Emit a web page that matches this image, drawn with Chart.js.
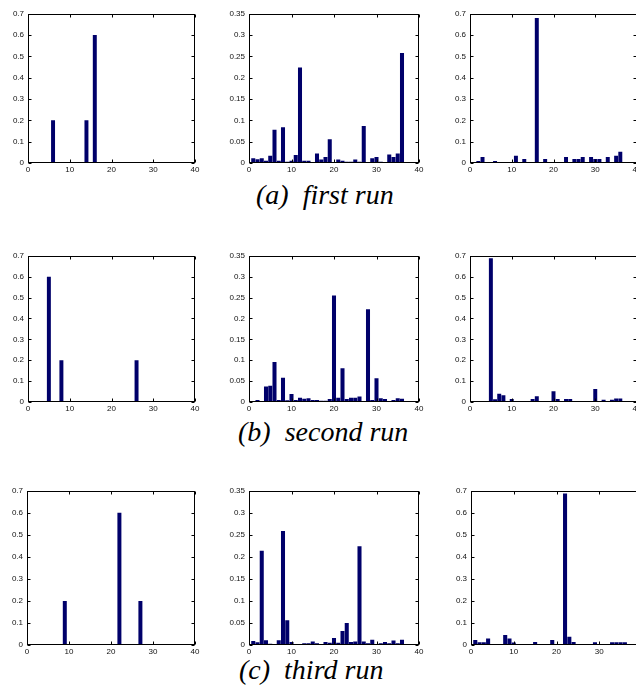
<!DOCTYPE html>
<html>
<head>
<meta charset="utf-8">
<script src="https://cdn.jsdelivr.net/npm/chart.js@4.4.1/dist/chart.umd.min.js"></script>
<style>
  html, body { margin: 0; padding: 0; background: #fff; overflow: hidden; width: 636px; height: 690px; }
  canvas { position: absolute; }
  .cap { position: absolute; font-family: "Liberation Serif", serif; font-style: italic; font-size: 28px; line-height: 28px; white-space: pre; color: #000; }
</style>
</head>
<body>
<div class="cap" style="left:256px; top:181px;">(a)  first run</div>
<div class="cap" style="left:238px; top:418px;">(b)  second run</div>
<div class="cap" style="left:239px; top:656px;">(c)  third run</div>

<script>
// bin index on the x axis
const bins = [1,2,3,4,5,6,7,8,9,10,11,12,13,14,15,16,17,18,19,20,21,22,23,24,25,26,27,28,29,30,31,32,33,34,35,36];

// tick labels
const xTicks = [0, 10, 20, 30, 40];
const yTicksWide = [0, 0.1, 0.2, 0.3, 0.4, 0.5, 0.6, 0.7];
const yTicksNarrow = [0, 0.05, 0.1, 0.15, 0.2, 0.25, 0.3, 0.35];

// (a) first run
const run1Left  = [0.005,0,0,0,0,0.2,0.005,0,0,0, 0,0,0,0.2,0,0.6,0,0,0,0, 0,0,0,0,0,0,0.005,0,0,0, 0,0,0,0,0,0];
const run1Mid   = [0.011,0.009,0.011,0.005,0.017,0.078,0.005,0.084,0.003,0.005, 0.019,0.224,0.005,0.005,0,0.022,0.008,0.014,0.056,0, 0.008,0.005,0.003,0.003,0.008,0.003,0.087,0,0.011,0.014, 0.003,0,0.02,0.014,0.022,0.258];
const run1Right = [0,0.009,0.028,0,0,0.009,0,0,0,0, 0.034,0,0.019,0,0.005,0.68,0,0.019,0,0, 0,0,0.028,0,0.019,0.019,0.028,0,0.028,0.019, 0.019,0,0.028,0,0.034,0.053];

// (b) second run
const run2Left  = [0,0,0,0,0.6,0,0,0.2,0,0, 0,0,0,0,0,0,0,0,0,0, 0,0,0,0,0,0.2,0,0,0,0, 0,0,0,0,0,0];
const run2Mid   = [0,0.005,0,0.037,0.039,0.096,0.005,0.058,0.004,0.019, 0.005,0.01,0.008,0.009,0.005,0.005,0.003,0.003,0.007,0.255, 0.01,0.081,0.007,0.01,0.01,0.013,0,0.222,0.005,0.057, 0.009,0.007,0,0.005,0.009,0.008];
const run2Right = [0,0,0.005,0,0.688,0.013,0.04,0.032,0,0.014, 0,0,0,0,0.014,0.027,0,0,0,0.051, 0.014,0,0.014,0.014,0,0,0,0,0,0.062, 0,0.011,0,0.011,0.017,0.017];

// (c) third run
const run3Left  = [0,0,0,0,0,0,0.005,0,0.2,0, 0,0,0,0,0,0,0,0,0,0, 0,0.6,0,0,0,0,0.2,0,0,0, 0,0,0,0,0,0];
const run3Mid   = [0.009,0.006,0.214,0.011,0.003,0,0.011,0.259,0.056,0.007, 0,0,0.004,0.004,0.008,0.004,0,0.007,0.005,0.016, 0.005,0.032,0.05,0.007,0.008,0.224,0.008,0.004,0.012,0, 0.004,0.007,0.004,0.01,0.004,0.012];
const run3Right = [0.023,0.012,0.012,0.03,0,0.005,0,0.045,0.03,0.011, 0,0,0,0,0.014,0,0,0,0.023,0, 0,0.688,0.038,0.014,0,0,0,0,0.012,0, 0,0,0.012,0.012,0.012,0.012];

const Y_AXIS_W = 30, X_AXIS_H = 16, PAD_TOP = 8, PAD_RIGHT = 10;

// plot-area placement of each panel (left, top, width, height)
const panels = [
  { values: run1Left,  yMax: 0.7,  yTicks: yTicksWide,   left: 28,  top: 13,  w: 167, h: 150 },
  { values: run1Mid,   yMax: 0.35, yTicks: yTicksNarrow, left: 249, top: 13,  w: 170, h: 150 },
  { values: run1Right, yMax: 0.7,  yTicks: yTicksWide,   left: 470, top: 13,  w: 167, h: 150 },
  { values: run2Left,  yMax: 0.7,  yTicks: yTicksWide,   left: 28,  top: 255, w: 167, h: 147 },
  { values: run2Mid,   yMax: 0.35, yTicks: yTicksNarrow, left: 249, top: 255, w: 170, h: 147 },
  { values: run2Right, yMax: 0.7,  yTicks: yTicksWide,   left: 470, top: 255, w: 167, h: 147 },
  { values: run3Left,  yMax: 0.7,  yTicks: yTicksWide,   left: 27,  top: 490, w: 168, h: 155 },
  { values: run3Mid,   yMax: 0.35, yTicks: yTicksNarrow, left: 249, top: 490, w: 170, h: 155 },
  { values: run3Right, yMax: 0.7,  yTicks: yTicksWide,   left: 471, top: 490, w: 171, h: 155 },
];

// matlab style box with inward ticks
const boxPlugin = {
  id: 'box',
  afterDraw(chart) {
    const { ctx, chartArea: a, scales } = chart;
    const l = Math.round(a.left) + 0.5, r = Math.round(a.right) - 0.5;
    const t = Math.round(a.top) + 0.5, b = Math.round(a.bottom) - 0.5;
    ctx.save();
    ctx.strokeStyle = '#000';
    ctx.lineWidth = 1;
    ctx.strokeRect(l, t, r - l, b - t);
    ctx.beginPath();
    scales.x.ticks.forEach(tk => {
      const px = Math.round(scales.x.getPixelForValue(tk.value)) + 0.5;
      ctx.moveTo(px, b); ctx.lineTo(px, b - 3);
      ctx.moveTo(px, t); ctx.lineTo(px, t + 3);
    });
    scales.y.ticks.forEach(tk => {
      const py = Math.round(scales.y.getPixelForValue(tk.value)) + 0.5;
      ctx.moveTo(l, py); ctx.lineTo(l + 3, py);
      ctx.moveTo(r, py); ctx.lineTo(r - 3, py);
    });
    ctx.stroke();
    ctx.restore();
  }
};

const tickFont = { family: 'Liberation Sans, Arial, sans-serif', size: 8 };

panels.forEach(p => {
  const cv = document.createElement('canvas');
  cv.width = Y_AXIS_W + p.w + PAD_RIGHT;
  cv.height = PAD_TOP + p.h + X_AXIS_H;
  cv.style.left = (p.left - Y_AXIS_W) + 'px';
  cv.style.top = (p.top - PAD_TOP) + 'px';
  document.body.appendChild(cv);

  new Chart(cv, {
    type: 'bar',
    data: {
      datasets: [{
        data: bins.map((b, i) => ({ x: b, y: p.values[i] === 0 ? null : p.values[i] })),
        backgroundColor: '#00006a',
        borderWidth: 0,
        barPercentage: 0.95,
        categoryPercentage: 1.0,
      }]
    },
    options: {
      responsive: false,
      animation: false,
      events: [],
      layout: { padding: { top: PAD_TOP, right: PAD_RIGHT, left: 0, bottom: 0 } },
      plugins: { legend: { display: false }, tooltip: { enabled: false } },
      scales: {
        x: {
          type: 'linear',
          min: 0, max: 40,
          offset: false,
          grid: { display: false, offset: false, drawTicks: false },
          border: { display: false },
          afterBuildTicks: s => { s.ticks = xTicks.map(v => ({ value: v })); },
          afterFit: s => { s.height = X_AXIS_H; },
          ticks: { font: tickFont, color: '#111', padding: 2, maxRotation: 0, autoSkip: false,
                   callback: v => String(v) }
        },
        y: {
          min: 0, max: p.yMax,
          grid: { display: false, drawTicks: false },
          border: { display: false },
          afterBuildTicks: s => { s.ticks = p.yTicks.map(v => ({ value: v })); },
          afterFit: s => { s.width = Y_AXIS_W; },
          ticks: { font: tickFont, color: '#111', padding: 4, autoSkip: false,
                   callback: v => String(v) }
        }
      }
    },
    plugins: [boxPlugin]
  });
});
</script>
</body>
</html>
